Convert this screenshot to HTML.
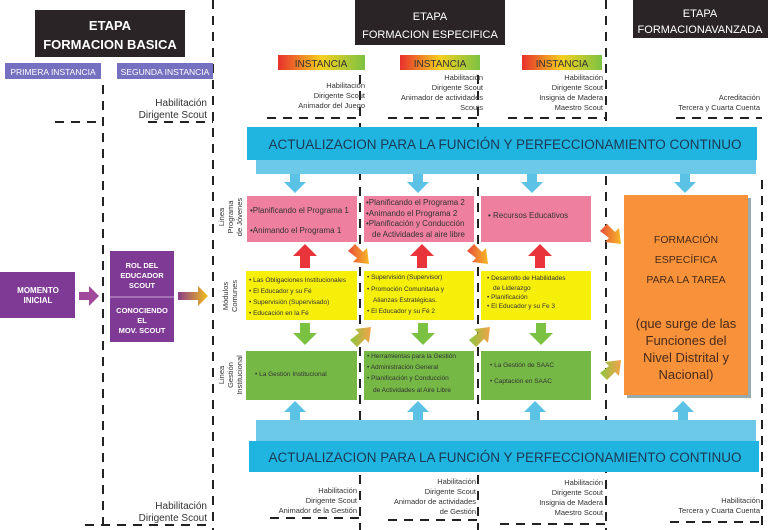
<!DOCTYPE html>
<html><head><meta charset="utf-8"><style>
body{margin:0;background:#fff;width:768px;height:530px;overflow:hidden;font-family:"Liberation Sans",sans-serif}
svg{position:absolute;left:0;top:0}
text{font-family:"Liberation Sans",sans-serif}
</style></head><body>
<svg width="768" height="530" viewBox="0 0 768 530">
<defs>
<linearGradient id="inst" x1="0" x2="1"><stop offset="0" stop-color="#e8302c"/><stop offset=".5" stop-color="#f5d020"/><stop offset="1" stop-color="#7cc242"/></linearGradient>
<linearGradient id="pg" x1="0" x2="1"><stop offset="0" stop-color="#8a3c88"/><stop offset="1" stop-color="#f2c01a"/></linearGradient>
<linearGradient id="og" x1="0" x2="1"><stop offset="0" stop-color="#e84a3a"/><stop offset="1" stop-color="#f7b928"/></linearGradient>
<linearGradient id="gg" x1="0" x2="1"><stop offset="0" stop-color="#8cc63f"/><stop offset="1" stop-color="#f3a24a"/></linearGradient>
</defs>
<g stroke="#222" stroke-width="2" stroke-dasharray="9,7" fill="none">
<line x1="103" y1="85" x2="103" y2="530"/>
<line x1="213" y1="0" x2="213" y2="530"/>
<line x1="360" y1="75" x2="360" y2="530"/>
<line x1="478" y1="75" x2="478" y2="530"/>
<line x1="606" y1="0" x2="606" y2="530"/>
<line x1="762" y1="180" x2="762" y2="530"/>
<line x1="55" y1="122" x2="103" y2="122"/>
<line x1="148" y1="122" x2="213" y2="122"/>
<line x1="267" y1="118" x2="360" y2="118"/>
<line x1="388" y1="118" x2="478" y2="118"/>
<line x1="508" y1="118" x2="606" y2="118"/>
<line x1="676" y1="118" x2="762" y2="118"/>
<line x1="85" y1="525" x2="213" y2="525"/>
<line x1="270" y1="518" x2="360" y2="518"/>
<line x1="388" y1="520" x2="478" y2="520"/>
<line x1="500" y1="524" x2="606" y2="524"/>
<line x1="670" y1="522" x2="762" y2="522"/>
</g>
<!-- titles -->
<rect x="35" y="10" width="150" height="47" fill="#2a2427"/>
<text x="110" y="30" fill="#fff" font-size="13" font-weight="bold" text-anchor="middle">ETAPA</text>
<text x="110" y="49" fill="#fff" font-size="13" font-weight="bold" text-anchor="middle">FORMACION BASICA</text>
<rect x="355" y="0" width="150" height="45" fill="#2a2427"/>
<text x="430" y="20" fill="#fff" font-size="11" text-anchor="middle">ETAPA</text>
<text x="430" y="38" fill="#fff" font-size="11" text-anchor="middle">FORMACION ESPECIFICA</text>
<rect x="633" y="0" width="135" height="38" fill="#2a2427"/>
<text x="700" y="17" fill="#fff" font-size="11" text-anchor="middle">ETAPA</text>
<text x="700" y="33" fill="#fff" font-size="11" text-anchor="middle">FORMACIONAVANZADA</text>
<rect x="5" y="63" width="96" height="16" fill="#7570c0"/>
<text x="53" y="75" fill="#fff" font-size="8.5" text-anchor="middle">PRIMERA INSTANCIA</text>
<rect x="117" y="63" width="96" height="16" fill="#7570c0"/>
<text x="165" y="75" fill="#fff" font-size="8.5" text-anchor="middle">SEGUNDA INSTANCIA</text>
<g font-size="10" fill="#333" text-anchor="middle">
<rect x="278" y="55" width="87" height="15" fill="url(#inst)"/><text x="321" y="67">INSTANCIA</text>
<rect x="400" y="55" width="80" height="15" fill="url(#inst)"/><text x="440" y="67">INSTANCIA</text>
<rect x="522" y="55" width="80" height="15" fill="url(#inst)"/><text x="562" y="67">INSTANCIA</text>
</g>
<g font-size="7.5" fill="#333" text-anchor="end">
<text x="365" y="88">Habilitación</text><text x="365" y="98">Dirigente Scout</text><text x="365" y="108">Animador del Juego</text>
<text x="483" y="80">Habilitación</text><text x="483" y="90">Dirigente Scout</text><text x="483" y="100">Animador de actividades</text><text x="483" y="110">Scouts</text>
<text x="603" y="80">Habilitación</text><text x="603" y="90">Dirigente Scout</text><text x="603" y="100">Insignia de Madera</text><text x="603" y="110">Maestro Scout</text>
<text x="760" y="100">Acreditación</text><text x="760" y="110">Tercera y Cuarta Cuenta</text>
<text x="357" y="493">Habilitación</text><text x="357" y="503">Dirigente Scout</text><text x="357" y="513">Animador de la Gestión</text>
<text x="476" y="484">Habilitación</text><text x="476" y="494">Dirigente Scout</text><text x="476" y="504">Animador de actividades</text><text x="476" y="514">de Gestión</text>
<text x="603" y="485">Habilitación</text><text x="603" y="495">Dirigente Scout</text><text x="603" y="505">Insignia de Madera</text><text x="603" y="515">Maestro Scout</text>
<text x="760" y="503">Habilitación</text><text x="760" y="513">Tercera y Cuarta Cuenta</text>
</g>
<g font-size="10" fill="#333" text-anchor="end">
<text x="207" y="106">Habilitación</text><text x="207" y="118">Dirigente Scout</text>
<text x="207" y="509">Habilitación</text><text x="207" y="521">Dirigente Scout</text>
</g>
<!-- top band -->
<rect x="256" y="158" width="500" height="16" fill="#6ccae8"/>
<rect x="247" y="127" width="510" height="33" fill="#20b4e0"/>
<text x="505" y="149" font-size="13.5" fill="#1a3a55" text-anchor="middle">ACTUALIZACION PARA LA FUNCIÓN  Y PERFECCIONAMIENTO CONTINUO</text>
<!-- bottom band -->
<rect x="256" y="420" width="500" height="22" fill="#6ccae8"/>
<rect x="249" y="441" width="510" height="31" fill="#20b4e0"/>
<text x="505" y="462" font-size="13.5" fill="#1a3a55" text-anchor="middle">ACTUALIZACION PARA LA FUNCIÓN  Y PERFECCIONAMIENTO CONTINUO</text>
<!-- blue arrows -->
<g fill="#5bc2e6">
<path d="M290 174h10v8h6l-11 11-11-11h6z"/>
<path d="M413 174h10v8h6l-11 11-11-11h6z"/>
<path d="M527 174h10v8h6l-11 11-11-11h6z"/>
<path d="M680 174h10v8h6l-11 11-11-11h6z"/>
<path d="M300 420h-10v-8h-6l11-11 11 11h-6z"/>
<path d="M423 420h-10v-8h-6l11-11 11 11h-6z"/>
<path d="M540 420h-10v-8h-6l11-11 11 11h-6z"/>
<path d="M688 420h-10v-8h-6l11-11 11 11h-6z"/>
</g>
<!-- side labels -->
<g font-size="7.5" fill="#333" text-anchor="middle">
<text transform="translate(224,217) rotate(-90)"><tspan x="0" y="0">Linea</tspan><tspan x="0" y="9">Programa</tspan><tspan x="0" y="18">de Jóvenes</tspan></text>
<text transform="translate(228,296) rotate(-90)"><tspan x="0" y="0">Módulos</tspan><tspan x="0" y="9">Comunes</tspan></text>
<text transform="translate(224,375) rotate(-90)"><tspan x="0" y="0">Linea</tspan><tspan x="0" y="9">Gestión</tspan><tspan x="0" y="18">Institucional</tspan></text>
</g>
<!-- boxes -->
<g fill="#ef7f9f">
<rect x="247" y="196" width="110" height="46"/><rect x="364" y="196" width="110" height="46"/><rect x="481" y="196" width="110" height="46"/>
</g>
<g fill="#f5ef0a"><rect x="246" y="271" width="111" height="49"/><rect x="364" y="271" width="110" height="49"/><rect x="481" y="271" width="110" height="49"/></g>
<g fill="#76b846"><rect x="246" y="351" width="111" height="49"/><rect x="364" y="351" width="110" height="49"/><rect x="481" y="351" width="110" height="49"/></g>
<g font-size="8" fill="#333">
<text x="250" y="213">•Planificando el Programa 1</text>
<text x="250" y="233">•Animando el Programa 1</text>
<text x="366" y="205">•Planificando el Programa 2</text>
<text x="366" y="216">•Animando el Programa 2</text>
<text x="366" y="226">•Planificación y Conducción</text>
<text x="372" y="237">de Actividades al aire libre</text>
<text x="488" y="218">•  Recursos Educativos</text>
</g>
<g font-size="6.5" fill="#333">
<text x="249" y="282">• Las Obligaciones Institucionales</text>
<text x="249" y="293">• El Educador y su Fé</text>
<text x="249" y="304">• Supervisión (Supervisado)</text>
<text x="249" y="315">• Educación en la Fé</text>
<text x="367" y="279">• Supervisión (Supervisor)</text>
<text x="367" y="291">• Promoción Comunitaria y</text>
<text x="373" y="302">Alianzas Estratégicas.</text>
<text x="367" y="313">• El Educador y su Fé 2</text>
<text x="487" y="280">• Desarrollo de Habilidades</text>
<text x="493" y="290">de Liderazgo</text>
<text x="487" y="299">• Planificación</text>
<text x="487" y="308">• El Educador y su Fe 3</text>
<text x="255" y="376">• La Gestión Institucional</text>
<text x="367" y="358">• Herramientas para la Gestión</text>
<text x="367" y="369">• Administración General</text>
<text x="367" y="380">• Planificación y Conducción</text>
<text x="373" y="392">de Actividades al Aire Libre</text>
<text x="490" y="367">• La Gestión de SAAC</text>
<text x="490" y="383">• Captación en SAAC</text>
</g>
<g fill="#e8343a">
<path d="M300 268h10v-12h7l-12-12-12 12h7z"/>
<path d="M417 268h10v-12h7l-12-12-12 12h7z"/>
<path d="M535 268h10v-12h7l-12-12-12 12h7z"/>
</g>
<g fill="#7cc242">
<path d="M300 323h10v10h7l-12 12-12-12h7z"/>
<path d="M418 323h10v10h7l-12 12-12-12h7z"/>
<path d="M536 323h10v10h7l-12 12-12-12h7z"/>
</g>
<g fill="url(#og)">
<path d="M348 251l7-7 8 8 4-4 2 16-16-2 4-4z"/>
<path d="M467 251l7-7 8 8 4-4 2 16-16-2 4-4z"/>
<path d="M600 231l7-7 8 8 4-4 2 16-16-2 4-4z"/>
</g>
<g fill="url(#gg)">
<path d="M350 340l7 7 8-8 4 4 2-16-16 2 4 4z"/>
<path d="M469 340l7 7 8-8 4 4 2-16-16 2 4 4z"/>
<path d="M600 373l7 7 8-8 4 4 2-16-16 2 4 4z"/>
</g>
<rect x="627" y="198" width="124" height="200" fill="#9aa"/>
<rect x="624" y="195" width="124" height="200" fill="#f7923a"/>
<g font-size="10.5" fill="#4a2a1a" text-anchor="middle">
<text x="686" y="243">FORMACIÓN</text><text x="686" y="263">ESPECÍFICA</text><text x="686" y="283">PARA LA TAREA</text>
</g>
<g font-size="13" fill="#4a2a1a" text-anchor="middle">
<text x="686" y="328">(que surge de las</text><text x="686" y="345">Funciones del</text><text x="686" y="362">Nivel Distrital y</text><text x="686" y="379">Nacional)</text>
</g>
<rect x="0" y="272" width="75" height="46" fill="#7e3a94"/>
<text x="38" y="293" font-size="8" fill="#fff" font-weight="bold" text-anchor="middle">MOMENTO</text>
<text x="38" y="303" font-size="8" fill="#fff" font-weight="bold" text-anchor="middle">INICIAL</text>
<path d="M79 292h10v-6l10 10-10 10v-6h-10z" fill="#a04a9c"/>
<rect x="110" y="251" width="64" height="91" fill="#7e3a94"/>
<line x1="110" y1="297" x2="174" y2="297" stroke="#c9a8d5" stroke-width="1"/>
<g font-size="7.5" fill="#fff" font-weight="bold" text-anchor="middle">
<text x="142" y="268">ROL DEL</text><text x="142" y="278">EDUCADOR</text><text x="142" y="288">SCOUT</text>
<text x="142" y="313">CONOCIENDO</text><text x="142" y="323">EL</text><text x="142" y="333">MOV. SCOUT</text>
</g>
<path d="M178 292h20v-6l10 10-10 10v-6h-20z" fill="url(#pg)"/>
</svg>
</body></html>
